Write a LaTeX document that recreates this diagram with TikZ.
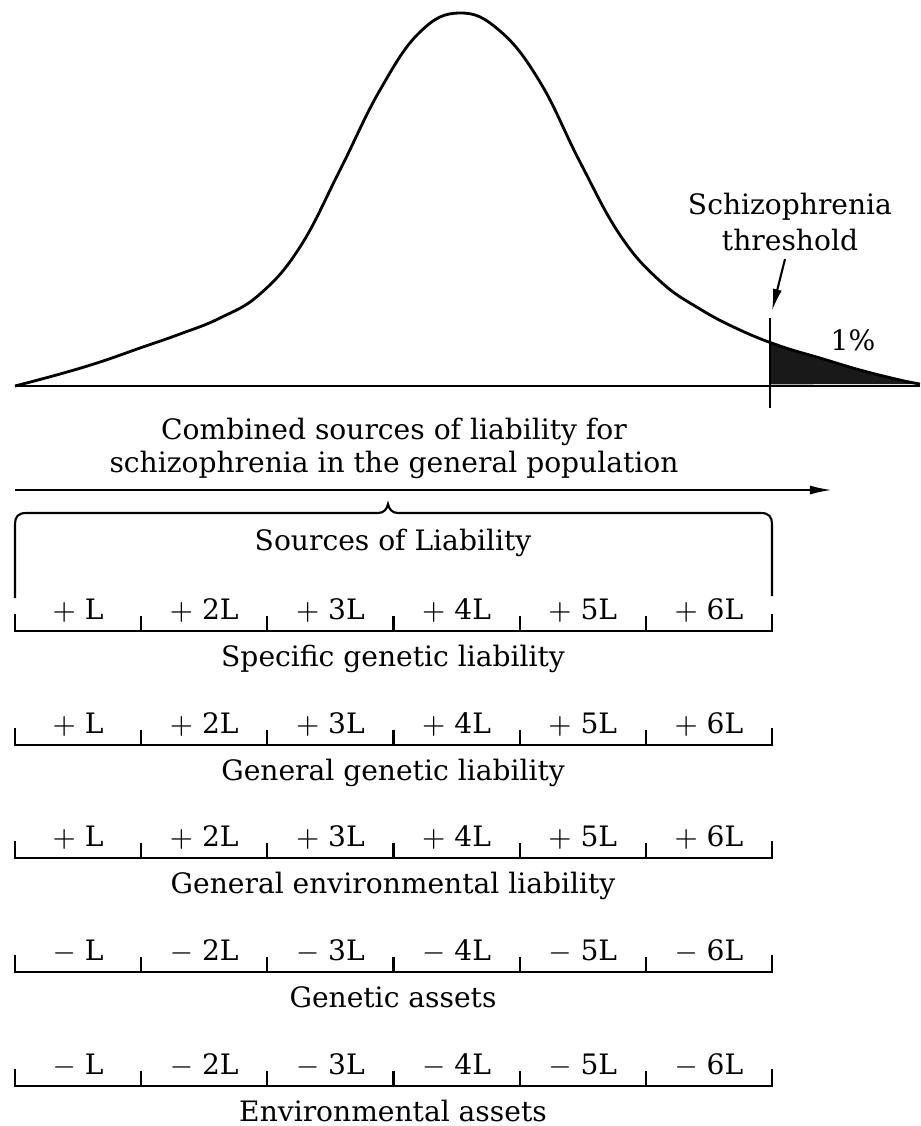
\documentclass[tikz,border=0pt]{standalone}
\usepackage{fontspec}
\setmainfont{DejaVu Serif}
\usetikzlibrary{arrows.meta}

\tikzset{
  liability curve/.style={line width=0.8pt},
  scale line/.style={line width=0.6pt},
  fig text/.style={font=\fontsize{8}{10}\selectfont,inner sep=0pt,anchor=base},
  seg label/.style={fig text},
  pointer/.style={line width=0.6pt,-{Latex[length=2.2mm,width=0.9mm]}}
}

\begin{document}
\begin{tikzpicture}[x=0.01cm,y=-0.01cm]
  \useasboundingbox (0,0) rectangle (920,1126);
  \begin{scope}
    \clip (770,0) rectangle (930,386);
    \fill[black!90] plot[smooth,tension=0.7] coordinates {(15,386) (60,374) (100,362) (140,348) (180,334) (220,318) (260,294) (300,247) (340,170) (380,90) (420,32) (460,13) (500,31) (540,82) (580,162) (620,235) (660,281) (700,309) (740,330) (780,346) (820,358) (860,370) (900,380) (920,384)} -- cycle;
  \end{scope}
  \draw[liability curve] plot[smooth,tension=0.7] coordinates {(15,386) (60,374) (100,362) (140,348) (180,334) (220,318) (260,294) (300,247) (340,170) (380,90) (420,32) (460,13) (500,31) (540,82) (580,162) (620,235) (660,281) (700,309) (740,330) (780,346) (820,358) (860,370) (900,380) (920,384)};
  \draw[scale line] (15,386) -- (920,386);
  \draw[line width=0.5pt] (770,318) -- (770,408);
  \node[fig text] (thr1) at (790,214) {Schizophrenia};
  \node[fig text] (thr2) at (790,250) {threshold};
  \coordinate (thr tip) at (772,311);
  \draw[pointer] ([shift={(-5,8)}]thr2.south) -- (thr tip);
  \node[fig text] (pct) at (853,350) {1\%};

  \node[fig text] (comb1) at (394,439) {Combined sources of liability for};
  \node[fig text] (comb2) at (394,472) {schizophrenia in the general population};
  \coordinate (axis start) at (15,490);
  \coordinate (axis end) at (832,490);
  \draw[pointer] (axis start) -- (axis end);

  \draw[scale line] (15,598) -- (15,524) .. controls (15,517) and (18,513) .. (26,513) -- (378,513)
    .. controls (384,513) and (387,509) .. (388,504) .. controls (389,509) and (392,513) .. (398,513)
    -- (761,513) .. controls (769,513) and (772,517) .. (772,524) -- (772,596);
  \node[fig text] (src) at (393,550) {Sources of Liability};

  \foreach \y/\sg/\cap [count=\r] in {631/+/Specific genetic liability, 745/+/General genetic liability,
      858/+/General environmental liability, 972/-/Genetic assets, 1086/-/Environmental assets}{
    \draw[scale line] (15,\y-17) -- (15,\y) -- (772,\y) -- (772,\y-17);
    \foreach \k in {1,...,5}
      \draw[scale line] ({15+126.17*\k},\y) -- ++(0,-15);
    \foreach \k in {1,...,6}
      \node[seg label] (r\r-\k) at ({15+126.17*(\k-0.5)},\y-12) {$\sg$ \ifnum\k=1 \else\k\fi L};
    \node[fig text] (cap\r) at (393,\y+35) {\cap};
  }
\end{tikzpicture}
\end{document}
